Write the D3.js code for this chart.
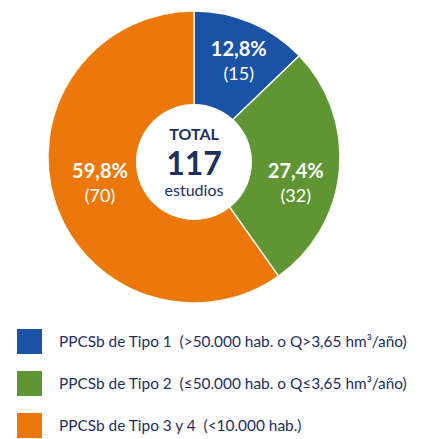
<!DOCTYPE html>
<html>
<head>
<meta charset="utf-8">
<script src="https://cdn.jsdelivr.net/npm/d3@7/dist/d3.min.js"></script>
<style>
  html, body { margin: 0; padding: 0; background: #fff; }
  svg { display: block; font-family: Lato, "Open Sans", sans-serif; }
  .legend text { white-space: pre; }
</style>
</head>
<body>
<svg id="chart" width="428" height="439"></svg>
<script>
// Study counts per plant type
const categories = [
  "PPCSb de Tipo 1  (>50.000 hab. o Q>3,65 hm³/año)",
  "PPCSb de Tipo 2  (≤50.000 hab. o Q≤3,65 hm³/año)",
  "PPCSb de Tipo 3 y 4  (<10.000 hab.)"
];
const counts = [15, 32, 70];
const colors = ["#1a52a6", "#5f9633", "#ec780b"];
const totalLabel = "TOTAL";
const totalUnit = "estudios";

const svg = d3.select("#chart");
const navy = "#1c2f5f";

const cx = 194, cy = 157, outerR = 146;
const total = d3.sum(counts);

const locale = d3.formatLocale({ decimal: ",", thousands: ".", grouping: [3], currency: ["", "€"] });
const fmtPct = locale.format(".1f");

const pie = d3.pie().sort(null).value(d => d)(counts);
const arc = d3.arc().innerRadius(0).outerRadius(outerR);

const g = svg.append("g").attr("transform", `translate(${cx},${cy})`);

g.selectAll("path.slice")
  .data(pie)
  .join("path")
  .attr("class", "slice")
  .attr("d", arc)
  .attr("fill", (d, i) => colors[i])
  .attr("stroke", "#fbfbf0")
  .attr("stroke-width", 1.4);

// white hub with the total
const hub = svg.append("g").attr("transform", `translate(${cx},${cy + 5})`);
hub.append("circle").attr("r", 58).attr("fill", "#fff");
hub.append("text").attr("y", -22).attr("text-anchor", "middle")
  .attr("font-size", 16).attr("font-weight", 700).attr("fill", navy).text(totalLabel);
hub.append("text").attr("y", 13).attr("text-anchor", "middle")
  .attr("font-size", 32).attr("font-weight", 700).attr("fill", navy).text(total);
hub.append("text").attr("y", 34).attr("text-anchor", "middle")
  .attr("font-size", 16).attr("fill", navy).text(totalUnit);

// slice labels: anchor angle (deg clockwise from top) and radius per slice
const labelAnchor = [[24, 110], [102, 104], [257, 96.5]];
const labels = g.selectAll("g.lbl")
  .data(pie)
  .join("g")
  .attr("class", "lbl")
  .attr("transform", (d, i) => {
    const a = labelAnchor[i][0] * Math.PI / 180, r = labelAnchor[i][1];
    return `translate(${r * Math.sin(a)},${-r * Math.cos(a)})`;
  });
labels.append("text").attr("text-anchor", "middle").attr("y", -1)
  .attr("font-size", 20).attr("font-weight", 700).attr("fill", "#fff")
  .text(d => fmtPct(d.value / total * 100) + "%");
labels.append("text").attr("text-anchor", "middle").attr("y", 23)
  .attr("font-size", 18).attr("fill", "#fff")
  .text(d => `(${d.value})`);

// legend
const legend = svg.append("g").attr("class", "legend").attr("transform", "translate(17,329)");
const rows = legend.selectAll("g").data(categories).join("g")
  .attr("transform", (d, i) => `translate(0,${i * 42})`);
rows.append("rect").attr("width", 25).attr("height", 25)
  .attr("fill", (d, i) => colors[i]);
rows.append("text").attr("x", 42).attr("y", 18)
  .attr("font-size", 15.4).attr("fill", navy).text(d => d);
</script>
</body>
</html>
